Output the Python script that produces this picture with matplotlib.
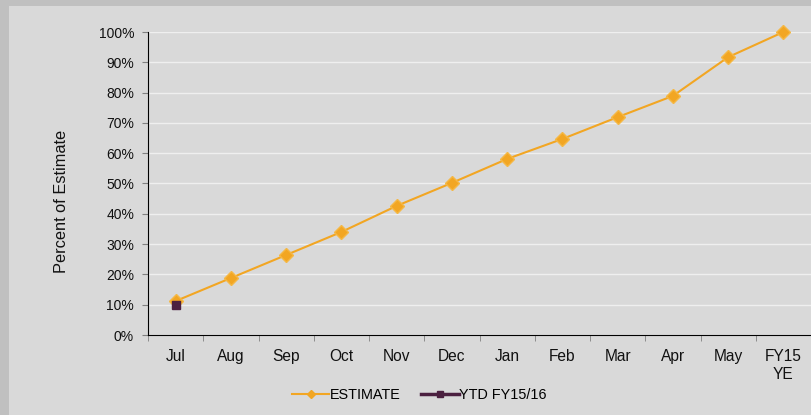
import matplotlib.pyplot as plt
from matplotlib.lines import Line2D
from matplotlib.patches import Rectangle
from matplotlib.ticker import FixedLocator, PercentFormatter
import numpy as np

plt.rcParams['font.family'] = ['Liberation Sans', 'DejaVu Sans']

# --- datos ---
months = ["Jul", "Aug", "Sep", "Oct", "Nov", "Dec", "Jan", "Feb", "Mar", "Apr", "May", "FY15\nYE"]
estimate = [11.2, 18.8, 26.4, 34.0, 42.6, 50.2, 58.1, 64.7, 71.9, 78.9, 91.7, 100.0]
ytd = [9.9]

ORANGE = '#F2A623'
PURPLE = '#4B2040'
BG = '#D9D9D9'

fig = plt.figure(figsize=(8.11, 4.15), dpi=100)
fig.patch.set_facecolor('#C0C0C0')
fig.patches.append(Rectangle((9 / 811, 0), 1, 1 - 6 / 415, transform=fig.transFigure,
                             facecolor=BG, edgecolor='none', zorder=-5))

ax = fig.add_axes([148 / 811, 80 / 415, 1 - 148 / 811, 303 / 415])
ax.set_facecolor(BG)

x = np.arange(len(months))
ax.plot(x, estimate, color=ORANGE, lw=1.5, marker='D', ms=7.5,
        mfc=ORANGE, mec='#F5B845', zorder=3, clip_on=False)
ax.plot(x[:len(ytd)], ytd, color=PURPLE, lw=2, marker='s', ms=5.5, zorder=4)

ax.set_xlim(-0.5, len(months) - 0.5)
ax.set_ylim(0, 100)
ax.set_yticks(np.arange(0, 101, 10))
ax.yaxis.set_major_formatter(PercentFormatter(decimals=0))
ax.grid(axis='y', color='#EFEFEF', lw=1)
ax.set_axisbelow(True)

ax.set_xticks(x)
ax.set_xticklabels(months, fontsize=11.2, color='#111111', linespacing=1.25)
ax.xaxis.set_minor_locator(FixedLocator(np.arange(-0.5, len(months), 1)))
ax.tick_params(axis='x', which='major', length=0, pad=10)
ax.tick_params(axis='x', which='minor', length=4, color='#808080', direction='out')
ax.tick_params(axis='y', length=4, color='#808080', labelsize=10, pad=6, labelcolor='#111111')

for s in ['top', 'right']:
    ax.spines[s].set_visible(False)
ax.spines['left'].set_color('black')
ax.spines['bottom'].set_color('black')

fig.text(62 / 811, 1 - 201 / 415, "Percent of Estimate", rotation=90, fontsize=11.8,
         color='#111111', ha='center', va='center')

handles = [Line2D([], [], color=ORANGE, lw=1.5, marker='D', ms=4),
           Line2D([], [], color=PURPLE, lw=2.5, marker='s', ms=5)]
fig.legend(handles, ["ESTIMATE", "YTD FY15/16"], loc='center', bbox_to_anchor=(0.517, 1 - 395 / 415),
           ncol=2, frameon=False, fontsize=10.4, handlelength=2.6, handletextpad=0.05,
           columnspacing=1.4)

fig.savefig("out.png", dpi=100, facecolor=fig.get_facecolor())
